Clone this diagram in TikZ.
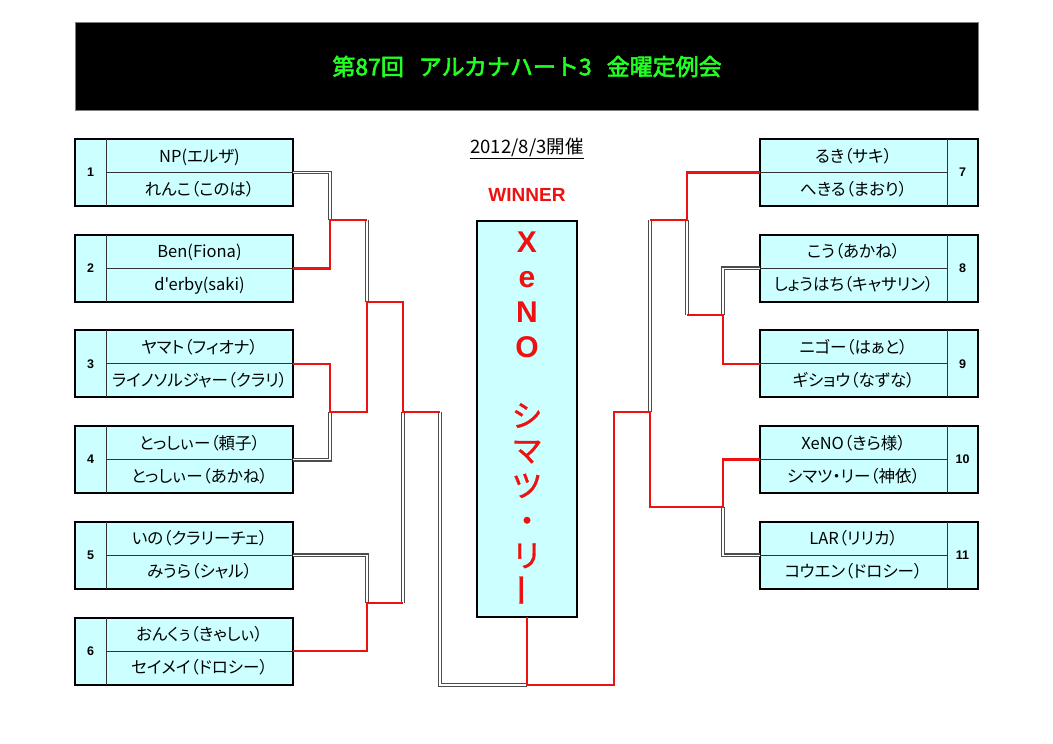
\documentclass[tikz,border=0pt]{standalone}
\usepackage{fontspec}
\usetikzlibrary{calc}
\newfontfamily\jp{Noto Sans CJK JP}[RawFeature=+palt]
\newfontfamily\jpm{Noto Sans CJK JP}
\newfontfamily\jpb{Noto Sans CJK JP}[FakeBold=2.5]
\newfontfamily\jpv{Noto Sans CJK JP}[FakeBold=1]
\newfontfamily\lsans{Liberation Sans}
\definecolor{cyanbg}{HTML}{CCFFFF}
\definecolor{tred}{HTML}{EE1111}
\definecolor{tgreen}{HTML}{22FF22}
\begin{document}
\begin{tikzpicture}[x=1pt,y=-1pt,
 teambox/.style={draw=black, line width=2pt, fill=cyanbg, minimum width=218pt, minimum height=67pt, inner sep=0pt, outer sep=0pt, anchor=north west},
 innerline/.style={draw=black!80, line width=1pt},
 teamname/.style={font=\jp\fontsize{16.5}{18}\selectfont, inner sep=0pt, text height=13pt, text depth=2pt},
 seednum/.style={font=\lsans\bfseries\fontsize{12.5}{14}\selectfont, inner sep=0pt},
 wline/.style={draw=tred, line width=2.8pt},
 lline/.style={preaction={draw=gray!60!black, line width=3.8pt}, draw=white, line width=1.4pt},
 vchar/.style={text=tred, anchor=base, inner sep=0pt}
]
\useasboundingbox[fill=white] (0,0) rectangle (1053,744);

% title
\node[draw=gray, line width=1pt, fill=black, minimum width=903pt, minimum height=88pt, inner sep=0pt, anchor=north west] (titlebar) at (75,22) {};
\node[text=tgreen, font=\jpb\fontsize{23}{24}\selectfont, inner sep=0pt] (titletext) at (titlebar.center) {第87回\hspace{15pt}アルカナハート3\hspace{15pt}金曜定例会};

% date and winner label
\node[font=\jpm\fontsize{18.5}{20}\selectfont, inner sep=0pt] (date) at (527,148) {\underline{2012/8/3開催}};
\node[text=tred, font=\lsans\bfseries\fontsize{19}{20}\selectfont, inner sep=0pt] (winlbl) at (527,195) {WINNER};

% champion box
\node[draw=black, line width=1.6pt, fill=cyanbg, minimum width=100pt, minimum height=396pt, inner sep=0pt, outer sep=0pt, anchor=north west] (champ) at (477,221) {};
\node[vchar, font=\lsans\bfseries\fontsize{30}{30}\selectfont] (v1) at (527,252) {X};
\node[vchar, font=\lsans\bfseries\fontsize{30}{30}\selectfont] (v2) at (527,287) {e};
\node[vchar, font=\lsans\bfseries\fontsize{30}{30}\selectfont] (v3) at (527,322) {N};
\node[vchar, font=\lsans\bfseries\fontsize{30}{30}\selectfont] (v4) at (527,357) {O};
\node[vchar, font=\jpv\fontsize{31}{31}\selectfont] (v5) at (527,427) {シ};
\node[vchar, font=\jpv\fontsize{31}{31}\selectfont] (v6) at (527,462) {マ};
\node[vchar, font=\jpv\fontsize{31}{31}\selectfont] (v7) at (527,497) {ツ};
\node[vchar, font=\jpv\fontsize{31}{31}\selectfont] (v8) at (527,532) {・};
\node[vchar, font=\jpv\fontsize{31}{31}\selectfont] (v9) at (527,567) {リ};
\node[text=tred, font=\jpv\fontsize{34}{34}\selectfont, inner sep=0pt, rotate=90] (v10) at (527,590) {ー};

% left teams
\foreach \i/\t/\a/\b in {1/139/{NP(エルザ)}/{れんこ（このは）},
  2/234.7/{Ben(Fiona)}/{d'erby(saki)},
  3/330.4/{ヤマト（フィオナ）}/{ライノソルジャー（クラリ）},
  4/426.1/{とっしぃー（頼子）}/{とっしぃー（あかね）},
  5/521.8/{いの（クラリーチェ）}/{みうら（シャル）},
  6/617.5/{おんくぅ（きゃしぃ）}/{セイメイ（ドロシー）}}{
  \node[teambox] (b\i) at (75,\t) {};
  \draw[innerline] ($(b\i.north west)+(31,0)$) -- ($(b\i.south west)+(31,0)$);
  \draw[innerline] ($(b\i.west)+(31,0)$) -- (b\i.east);
  \node[seednum] (n\i) at ($(b\i.west)+(15.5,0)$) {\i};
  \node[teamname] (t\i-a) at ($(b\i.north west)+(124.5,17.5)$) {\a};
  \node[teamname] (t\i-b) at ($(b\i.north west)+(124.5,50.5)$) {\b};
}

% right teams
\foreach \i/\t/\a/\b in {7/139/{るき（サキ）}/{へきる（まおり）},
  8/234.7/{こう（あかね）}/{しょうはち（キャサリン）},
  9/330.4/{ニゴー（はぁと）}/{ギショウ（なずな）},
  10/426.1/{XeNO（きら様）}/{シマツ・リー（神依）},
  11/521.8/{LAR（リリカ）}/{コウエン（ドロシー）}}{
  \node[teambox] (b\i) at (760,\t) {};
  \draw[innerline] ($(b\i.north west)+(187,0)$) -- ($(b\i.south west)+(187,0)$);
  \draw[innerline] (b\i.west) -- ($(b\i.west)+(187,0)$);
  \node[seednum] (n\i) at ($(b\i.west)+(202.5,0)$) {\i};
  \node[teamname] (t\i-a) at ($(b\i.north west)+(93.5,17.5)$) {\a};
  \node[teamname] (t\i-b) at ($(b\i.north west)+(93.5,50.5)$) {\b};
}

% junctions
\coordinate (c12) at (330,220);
\coordinate (c34) at (330,412);
\coordinate (cA) at (367,302);
\coordinate (c56) at (367,603);
\coordinate (cB) at (403,412);
\coordinate (cL) at (440,412);
\coordinate (cF) at (527,685);
\coordinate (c78) at (687,220);
\coordinate (c89) at (723,315);
\coordinate (c1011) at (723,507);
\coordinate (cC) at (650,412);
\coordinate (cR) at (614,412);

% losing lines
\draw[lline] (b1.east) -| (c12);
\draw[lline] (b4.east) -| (c34);
\draw[lline] (c12 -| cA) -- (cA);
\draw[lline] (b5.east) -| (c56);
\draw[lline] (c56 -| cB) -- (cB);
\draw[lline] (cL) |- (cF);
\draw[lline] (b8.west) -| (c89);
\draw[lline] (c89 -| c78) -- (c78);
\draw[lline] (c78 -| cC) -- (cC);
\draw[lline] (b11.west) -| (c1011);

% winning lines
\draw[wline] (b2.east) -| (c12) -- (c12 -| cA);
\draw[wline] (b3.east) -| (c34) -| (cA) -| (cB) -- (cL);
\draw[wline] (b6.east) -| (c56) -- (c56 -| cB);
\draw[wline] (b7.west) -| (c78) -- (c78 -| cC);
\draw[wline] (b9.west) -| (c89) -- (c89 -| c78);
\draw[wline] (b10.west) -| (c1011) -| (cC) -- (cR) |- (cF) -- (champ.south);
\end{tikzpicture}
\end{document}
